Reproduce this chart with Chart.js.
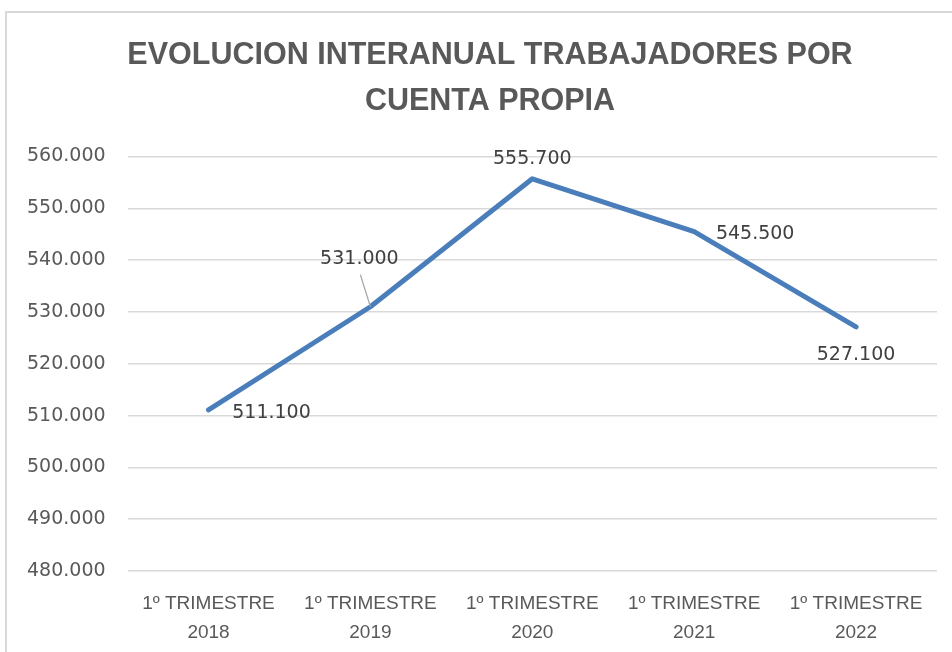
<!DOCTYPE html>
<html>
<head>
<meta charset="utf-8">
<script src="https://cdn.jsdelivr.net/npm/chart.js@4.4.0/dist/chart.umd.min.js"></script>
<style>
  html, body { margin: 0; padding: 0; background: #fff; overflow: hidden; }
  #frame {
    position: absolute; left: 5px; top: 11px; width: 980px; height: 700px;
    border: 2px solid #d9d9d9; box-sizing: border-box;
  }
  #wrap { position: absolute; left: 0; top: 0; width: 952px; height: 652px; }
</style>
</head>
<body>
<div id="frame"></div>
<div id="wrap"><canvas id="chart" width="952" height="652"></canvas></div>
<script>
// ---- data ----
const categories = [
  ["1º TRIMESTRE", "2018"],
  ["1º TRIMESTRE", "2019"],
  ["1º TRIMESTRE", "2020"],
  ["1º TRIMESTRE", "2021"],
  ["1º TRIMESTRE", "2022"]
];
const workers = [511100, 531000, 555700, 545500, 527100];
const yMin = 480000;
const yMax = 560000;
const yStep = 10000;

// label placement around each point (dx, dy from the point, text centred)
const labelOffsets = [[63, 3], [-11, -48], [0, -20], [61, 2], [0, 28]];

function fmt(v) {
  return v.toString().replace(/\B(?=(\d{3})+(?!\d))/g, ".");
}

// draws the value labels (and the leader line of the second one)
const valueLabels = {
  id: "valueLabels",
  afterLayout(chart) {
    // the title in the original sits a bit right of the canvas centre
    if (chart.titleBlock) chart.titleBlock.left += 38;
  },
  afterDatasetsDraw(chart) {
    const ctx = chart.ctx;
    const pts = chart.getDatasetMeta(0).data;
    ctx.save();
    ctx.font = "19px 'DejaVu Sans'";
    ctx.fillStyle = "#404040";
    ctx.textAlign = "center";
    ctx.textBaseline = "middle";
    pts.forEach((p, i) => {
      const [dx, dy] = labelOffsets[i];
      ctx.fillText(fmt(workers[i]), p.x + dx, p.y + dy);
    });
    // leader line for 531.000
    const p = pts[1];
    ctx.strokeStyle = "#a6a6a6";
    ctx.lineWidth = 1.2;
    ctx.beginPath();
    ctx.moveTo(p.x - 10, p.y - 32);
    ctx.lineTo(p.x, p.y);
    ctx.stroke();
    ctx.restore();
  }
};

new Chart(document.getElementById("chart"), {
  type: "line",
  data: {
    labels: categories,
    datasets: [{
      data: workers,
      borderColor: "#4a7ebb",
      borderWidth: 5,
      borderCapStyle: "round",
      borderJoinStyle: "round",
      pointRadius: 0,
      tension: 0,
      fill: false
    }]
  },
  options: {
    responsive: false,
    animation: false,
    layout: { padding: { left: 5, right: 15, top: 33, bottom: -14 } },
    plugins: {
      legend: { display: false },
      tooltip: { enabled: false },
      title: {
        display: true,
        text: ["EVOLUCION INTERANUAL TRABAJADORES POR", "CUENTA PROPIA"],
        color: "#595959",
        font: { family: "'Liberation Sans'", size: 30.5, weight: "bold", lineHeight: 1.5 },
        padding: { top: 0, bottom: 32 }
      }
    },
    scales: {
      x: {
        offset: true,
        grid: { display: false, drawTicks: false },
        border: { display: false },
        ticks: {
          color: "#595959",
          font: { family: "'Liberation Sans'", size: 19, lineHeight: 1.5 },
          maxRotation: 0,
          autoSkip: false,
          padding: 19
        }
      },
      y: {
        min: yMin,
        max: yMax,
        grid: { color: "#d9d9d9", lineWidth: 1.5, drawTicks: false },
        border: { display: false },
        ticks: {
          stepSize: yStep,
          color: "#595959",
          font: { family: "'DejaVu Sans'", size: 19 },
          padding: 22,
          callback: v => fmt(v)
        }
      }
    }
  },
  plugins: [valueLabels]
});
</script>
</body>
</html>
